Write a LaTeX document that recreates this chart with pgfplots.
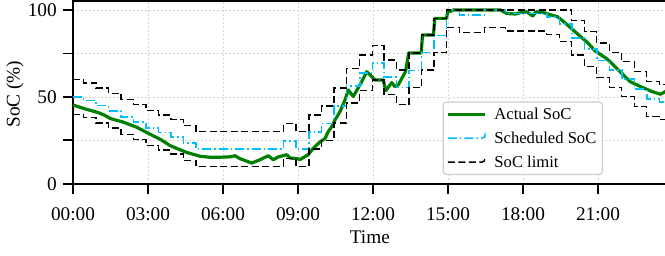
\documentclass[border=0pt]{standalone}
\usepackage{fontspec}
\setmainfont{Liberation Serif}
\usepackage{pgfplots}
\usepackage{pgfplotstable}
\pgfplotsset{compat=1.18}
\definecolor{actgreen}{RGB}{0,128,0}
\definecolor{schcyan}{RGB}{0,191,255}
\pgfplotstableread{
t v
0 45.3
0.5 43
1.0 41
1.25 39.5
1.5 37.5
2.0 35.5
2.55 32.5
3.08 28.5
3.5 25.5
3.88 22
4.2 20
4.55 18
5.08 15.8
5.5 15.2
6.0 15.3
6.3 15.5
6.48 16.1
6.68 14.4
7.15 11.9
7.48 13.8
7.81 16.1
8.01 13.8
8.21 15.4
8.55 16.7
8.68 14.8
8.95 14.5
9.08 13.9
9.41 16.7
9.61 20.4
9.88 24.1
10.08 26
10.21 30
10.35 32.8
10.48 36.7
10.68 41.5
10.88 48.2
11.01 54
11.21 50.2
11.55 58.8
11.75 64.5
11.95 61.6
12.08 59.7
12.41 59.7
12.51 53.6
12.75 58.2
12.88 55.9
13.01 56.9
13.3 64.5
13.43 75.3
13.93 75.3
13.98 85.6
14.42 85.6
14.47 95.2
14.94 95.2
15.0 100
15.08 99
15.2 100
17.1 100
17.35 98
17.7 97.7
17.9 98.5
18.15 99
18.39 96.5
18.52 99
18.85 98.4
19.4 96
19.77 91.5
20.2 86
20.6 81
20.88 76.5
21.35 72
21.55 69.3
21.95 63.6
22.28 58.8
22.75 55.6
23.15 53.1
23.5 51.5
23.75 53.5
}\acttab
\pgfplotstableread{
t v
0 50
0.42 48
0.92 45
1.42 42
1.92 38.5
2.42 35.5
2.92 32
3.42 29.5
3.92 27
4.42 23.5
4.92 20
8.42 24.5
8.92 20
9.44 29.8
9.94 34.6
10.44 44.8
10.94 56.3
11.47 63.6
11.97 69.6
12.44 61.3
12.94 55.5
13.44 65.3
13.94 75.5
14.44 85.4
14.94 100
15.45 97
16.45 100
17.3 98
18.95 96
19.45 92
19.95 84
20.45 77.5
20.95 71
21.45 65.5
21.95 60.3
22.45 54.5
22.95 48.7
23.45 47
23.75 47
}\schtab
\pgfplotstableread{
t v
0 60
0.42 58
0.92 55
1.42 52
1.92 48.5
2.42 45.5
2.92 42
3.42 39.5
3.92 37
4.42 33.5
4.92 30
8.42 34.5
8.92 30
9.44 39.6
9.94 44.8
10.44 55
10.94 66.4
11.47 74.1
11.97 79.5
12.44 71.2
12.94 65.5
13.44 75.3
13.94 85.6
14.44 95.2
14.94 100
19.95 94
20.45 87.5
20.95 81
21.45 75.5
21.95 70.3
22.45 64.5
22.95 58.7
23.45 57
23.75 57
}\uptab
\pgfplotstableread{
t v
0 40
0.42 38
0.92 35
1.42 32
1.92 28.5
2.42 25.5
2.92 22
3.42 19.5
3.92 17
4.42 13.5
4.92 10
8.42 14.5
8.92 10
9.44 20
9.94 24.8
10.44 35
10.94 46.5
11.47 53.6
11.97 59.6
12.44 51.2
12.94 45.5
13.44 55.3
13.94 65.5
14.44 75.4
14.94 90
15.45 87
16.45 90
17.3 88
18.95 86
19.45 82
19.95 74
20.45 67.5
20.95 61
21.45 55.5
21.95 50.3
22.45 44.5
22.95 38.7
23.45 37
23.75 37
}\lotab
\begin{document}
\begin{tikzpicture}[x=1pt,y=1pt]
\useasboundingbox (-73,-71.3) rectangle (592,183.7);
\begin{axis}[
  at={(0pt,0pt)}, anchor=south west,
  scale only axis, width=593.75pt, height=182.7pt,
  xmin=0, xmax=23.75, ymin=0, ymax=105.2,
  xtick={0,3,6,9,12,15,18,21},
  xticklabels={00:00,03:00,06:00,09:00,12:00,15:00,18:00,21:00},
  ytick={0,25,50,75,100},
  yticklabels={0,,50,,100},
  xtick pos=lower, ytick pos=left,
  tick align=outside, major tick length=10pt,
  tick style={line width=1.8pt, black},
  axis line style={line width=2pt},
  grid=major,
  major grid style={black!17, dash pattern=on 2pt off 2pt, line width=0.5pt},
  tick label style={font=\fontsize{19.3}{23}\selectfont, inner sep=0pt},
  xticklabel style={anchor=north, yshift=-14pt},
  yticklabel style={anchor=east, xshift=-6pt},
  label style={font=\fontsize{19.3}{23}\selectfont, inner sep=0pt},
  xlabel={Time}, ylabel={SoC (\%)},
  xlabel style={at={(axis description cs:0.5,-0.293)}, anchor=center},
  ylabel style={at={(axis description cs:-0.0977,0.49)}, anchor=center},
  legend cell align=left,
  legend style={at={(rel axis cs:0.8926,0.0476)}, anchor=south east,
    draw=black!20, line width=1.2pt, rounded corners=3pt, fill=white, fill opacity=0.8, text opacity=1,
    font=\fontsize{16.6}{19}\selectfont, inner sep=3pt,
    nodes={inner sep=3pt, text height=11.5pt, text depth=1pt},
    row sep=5.5pt},
  legend image code/.code={\draw[#1] plot coordinates {(0pt,0pt) (37pt,0pt)}; \path (42pt,0pt);},
]
\addplot[actgreen, line width=3.2pt, line join=round] table[x=t,y=v] {\acttab};
\addlegendentry{Actual SoC}
\addplot[schcyan, line width=1.5pt, const plot, dash pattern=on 9pt off 3pt on 1.5pt off 3pt] table[x=t,y=v] {\schtab};
\addlegendentry{Scheduled SoC}
\addplot[black, line width=1.4pt, const plot, dash pattern=on 7pt off 3.5pt] table[x=t,y=v] {\uptab};
\addlegendentry{SoC limit}
\addplot[black, line width=1.4pt, const plot, dash pattern=on 7pt off 3.5pt, forget plot] table[x=t,y=v] {\lotab};
\end{axis}
\end{tikzpicture}
\end{document}
